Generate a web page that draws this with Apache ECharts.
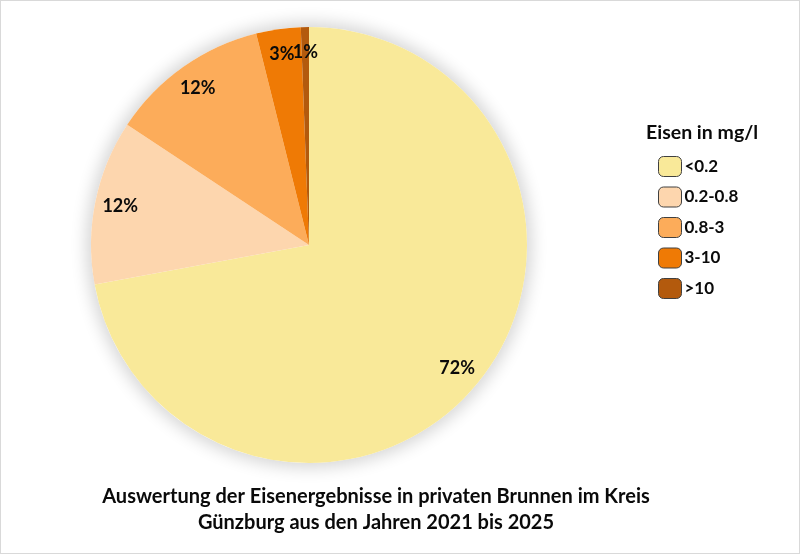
<!DOCTYPE html>
<html>
<head>
<meta charset="utf-8">
<script src="https://cdn.jsdelivr.net/npm/echarts@6/dist/echarts.min.js"></script>
<style>
html,body{margin:0;padding:0;background:#fff;}
#wrap{position:relative;width:800px;height:554px;}
#glow{position:absolute;left:91px;top:27px;width:436px;height:436px;border-radius:50%;background:#fff;
  box-shadow:0 0 16px 5px rgba(0,0,0,0.16);z-index:0;}
#c{position:absolute;left:0;top:0;width:798px;height:552px;border:1px solid #d9d9d9;z-index:1;background:transparent;}
</style>
</head>
<body>
<div id="wrap"><div id="glow"></div><div id="c"></div></div>
<script>
const categories = ['<0.2', '0.2-0.8', '0.8-3', '3-10', '>10'];
const values = [72.1, 12.2, 11.8, 3.3, 0.6];
const colors = ['#F9E999', '#FDD6AE', '#FCAC5A', '#EF7A05', '#B35A0D'];
const legendTitle = 'Eisen in mg/l';
const chartTitle = 'Auswertung der Eisenergebnisse in privaten Brunnen im Kreis\nGünzburg aus den Jahren 2021 bis 2025';

const FONT = 'Lato';
const chart = echarts.init(document.getElementById('c'));
const center = [308, 244];
const R = 218;
const data = categories.map((n, i) => ({ name: n, value: values[i], itemStyle: { color: colors[i] } }));

chart.setOption({
  animation: false,
  backgroundColor: 'transparent',
  title: [
    { text: chartTitle, top: 478, left: 370, textAlign: 'center',
      textStyle: { fontFamily: FONT, fontSize: 20, fontWeight: 'bold', color: '#0a0a0a', lineHeight: 26 } },
    { text: legendTitle, left: 640, top: 117,
      textStyle: { fontFamily: FONT, fontSize: 19.5, fontWeight: 'bold', color: '#0a0a0a' } }
  ],
  legend: {
    orient: 'vertical', left: 657, top: 155, padding: 0,
    itemWidth: 23, itemHeight: 20, itemGap: 9.5, icon: 'roundRect',
    itemStyle: { borderColor: '#404040', borderWidth: 1 },
    textStyle: { fontFamily: FONT, fontSize: 17, fontWeight: 'bold', color: '#0a0a0a', padding: [0,0,0,-2] },
    data: categories.map((n, i) => ({ name: n, itemStyle: { color: colors[i], borderColor: '#404040', borderWidth: 1 } }))
  },
  series: [
    { type: 'pie', z: 5, center: center, radius: [0, R], startAngle: 90, clockwise: true,
      label: { show: false }, labelLine: { show: false },
      itemStyle: { borderWidth: 0 },
      data: data },
    { type: 'pie', z: 6, silent: true, center: center, radius: [R * 0.74, R], startAngle: 90, clockwise: true,
      itemStyle: { color: 'rgba(0,0,0,0)', borderWidth: 0 },
      labelLine: { show: false },
      labelLayout: { hideOverlap: false },
      label: { show: true, position: 'inside', fontFamily: FONT, fontSize: 18, fontWeight: 'bold', color: '#0a0a0a',
        formatter: p => Math.round(p.percent) + '%' },
      data: categories.map((n, i) => ({ name: n, value: values[i] })) }
  ]
});
</script>
</body>
</html>
